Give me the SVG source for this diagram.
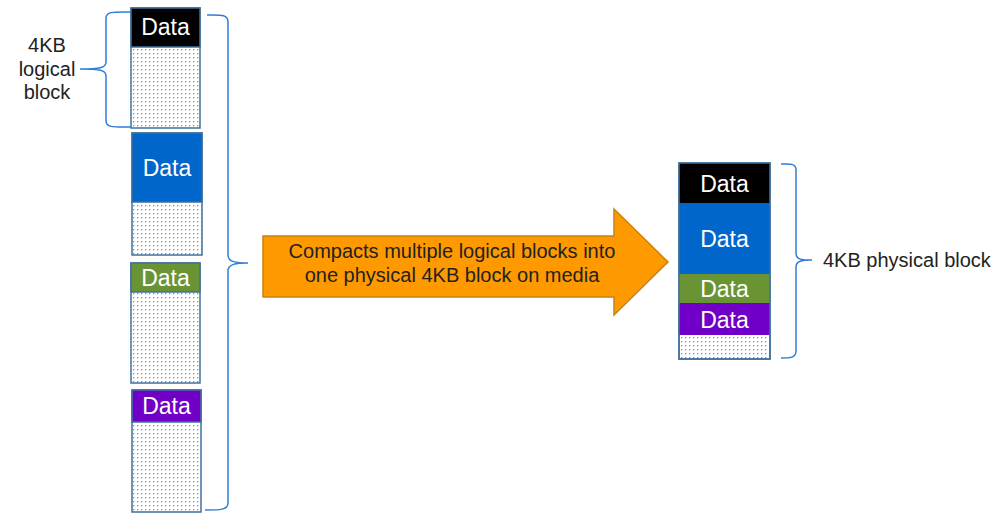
<svg xmlns="http://www.w3.org/2000/svg" width="997" height="529" viewBox="0 0 997 529">
<defs>
<pattern id="dots" width="4" height="4" patternUnits="userSpaceOnUse">
<rect width="4" height="4" fill="#ffffff"/>
<rect x="1" y="1" width="1.3" height="1.3" fill="#8f8f8f"/>
</pattern>
<style>
.free{fill:url(#dots);stroke:#41719c;stroke-width:1.5}
.dat{stroke:#41719c;stroke-width:1.5}
.dt{font-family:"Liberation Sans",Arial,sans-serif;font-size:23px;fill:#ffffff;text-anchor:middle}
.lbl{font-family:"Liberation Sans",Arial,sans-serif;font-size:20px;fill:#222222}
.brace{fill:none;stroke:#2f7ed8;stroke-width:1.5}
</style>
</defs>
<rect width="997" height="529" fill="#ffffff"/>
<g id="logical1">
<rect class="free" x="131" y="8" width="69" height="120"/>
<rect class="dat" x="131" y="8" width="69" height="39" fill="#000000"/>
<text class="dt" x="165.5" y="35">Data</text>
</g>
<g id="logical2">
<rect class="free" x="132" y="133" width="70" height="122"/>
<rect class="dat" x="132" y="133" width="70" height="69" fill="#0066cc"/>
<text class="dt" x="167" y="176">Data</text>
</g>
<g id="logical3">
<rect class="free" x="131" y="263" width="69" height="120"/>
<rect class="dat" x="131" y="263" width="69" height="29" fill="#6a9433"/>
<text class="dt" x="165.5" y="286">Data</text>
</g>
<g id="logical4">
<rect class="free" x="132" y="390" width="69" height="122"/>
<rect class="dat" x="132" y="390" width="69" height="32" fill="#7000c8"/>
<text class="dt" x="166.5" y="414">Data</text>
</g>
<g id="physical">
<rect class="free" x="679" y="163" width="91" height="196"/>
<rect x="679" y="163" width="91" height="40" fill="#000000"/>
<rect x="679" y="203" width="91" height="71" fill="#0066cc"/>
<rect x="679" y="274" width="91" height="29" fill="#6a9433"/>
<rect x="679" y="303" width="91" height="32" fill="#7000c8"/>
<rect x="679" y="163" width="91" height="196" fill="none" stroke="#41719c" stroke-width="1.5"/>
<text class="dt" x="724.5" y="192">Data</text>
<text class="dt" x="724.5" y="247">Data</text>
<text class="dt" x="724.5" y="297">Data</text>
<text class="dt" x="724.5" y="328">Data</text>
</g>
<g id="label-logical">
<text class="lbl" text-anchor="middle" x="47" y="52">4KB</text>
<text class="lbl" text-anchor="middle" x="47" y="76">logical</text>
<text class="lbl" text-anchor="middle" x="47" y="99">block</text>
</g>
<g id="label-physical">
<text class="lbl" x="823" y="267">4KB physical block</text>
</g>
<g id="compact-arrow">
<polygon points="263,236 614,236 614,209 668,262 614,315 614,297 263,297" fill="#ff9900" stroke="#c9830f" stroke-width="1.5"/>
<text class="lbl" text-anchor="middle" x="452" y="258" fill="#1a1a1a">Compacts multiple logical blocks into</text>
<text class="lbl" text-anchor="middle" x="452" y="282" fill="#1a1a1a">one physical 4KB block on media</text>
</g>
<g id="connectors">
<path class="brace" d="M131,12 C115,12 106,11 106,18 L106,62 C106,68 100,69 80,69 C100,69 106,70 106,76 L106,121 C106,128 115,127 131,127"/>
<path class="brace" d="M207,15 C220,15 228,14 228,22 L228,255 C228,262 236,263 248,263 C236,263 228,264 228,271 L228,503 C228,510 220,510 205,510"/>
<path class="brace" d="M781,164 C790,164 796,163 796,170 L796,253 C796,260 802,260 812,260 C802,260 796,261 796,267 L796,351 C796,358 790,358 781,358"/>
</g>
</svg>
